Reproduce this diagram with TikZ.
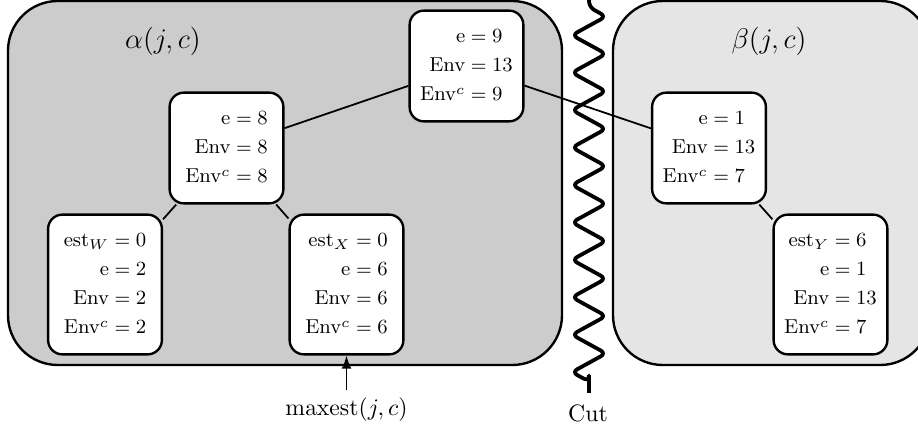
\documentclass[tikz,border=0pt]{standalone}
\usetikzlibrary{decorations.pathmorphing,arrows.meta}
\definecolor{leftgray}{gray}{0.8}
\definecolor{rightgray}{gray}{0.9}
\newcommand{\valtab}[1]{{\fontsize{8.5}{10.2}\selectfont\renewcommand\arraystretch{1.2}\begin{tabular}{@{}r@{${}={}$}l@{}}#1\end{tabular}}}
\begin{document}
\begin{tikzpicture}[x=0.422pt,y=-0.422pt,
  valbox/.style={draw, line width=1pt, fill=white, rounded corners=6pt,
    minimum width=48pt, inner xsep=3pt, inner ysep=5pt, align=center},
  link/.style={line width=0.75pt},
  region/.style={draw, line width=1pt, rounded corners=21pt},
  biglabel/.style={font=\fontsize{13}{15}\selectfont, inner sep=0pt},
  cutline/.style={line width=1.6pt, line join=round, rounded corners=2.5pt, decorate,
    decoration={zigzag, segment length=15.8pt, amplitude=7.2pt, pre length=3pt, post length=3pt}}]
\useasboundingbox (0,0) rectangle (918,430);
% regions
\draw[region, fill=leftgray] (8,1) rectangle (562,365);
\draw[region, fill=rightgray] (613,1) rectangle (930,365);
% cut
\coordinate (cuttop) at (589,0);
\coordinate (cutbot) at (589,393);
\draw[cutline] (cuttop) -- (cutbot);
\node (cutlbl) at (588,413) {Cut};
% region labels
\node[biglabel] (alphalbl) at (163,41) {$\alpha(j,c)$};
\node[biglabel] (betalbl) at (769,41) {$\beta(j,c)$};
% value boxes
\node[valbox] (top) at (466.5,66) {\valtab{e & 9\\ Env & 13\\ Env$^c$ & 9}};
\node[valbox] (mid) at (226.5,148) {\valtab{e & 8\\ Env & 8\\ Env$^c$ & 8}};
\node[valbox] (estW) at (105,284.5) {\valtab{est$_W$ & 0\\ e & 2\\ Env & 2\\ Env$^c$ & 2}};
\node[valbox] (estX) at (346.5,284.5) {\valtab{est$_X$ & 0\\ e & 6\\ Env & 6\\ Env$^c$ & 6}};
\node[valbox] (beta) at (709,148) {\valtab{e & 1\\ Env & 13\\ Env$^c$ & 7}};
\node[valbox] (estY) at (830.5,284.5) {\valtab{est$_Y$ & 6\\ e & 1\\ Env & 13\\ Env$^c$ & 7}};
% links
\draw[link] (mid) -- (top);
\draw[link] (top) -- (beta);
\draw[link] (mid) -- (estW);
\draw[link] (mid) -- (estX);
\draw[link] (beta) -- (estY);
% maxest
\node (maxlbl) at (346.5,410) {$\mathrm{maxest}(j,c)$};
\draw[line width=0.8pt, -{Latex[length=5.5pt,width=4.2pt]}] (maxlbl.north) -- (estX.south);
\end{tikzpicture}
\end{document}
